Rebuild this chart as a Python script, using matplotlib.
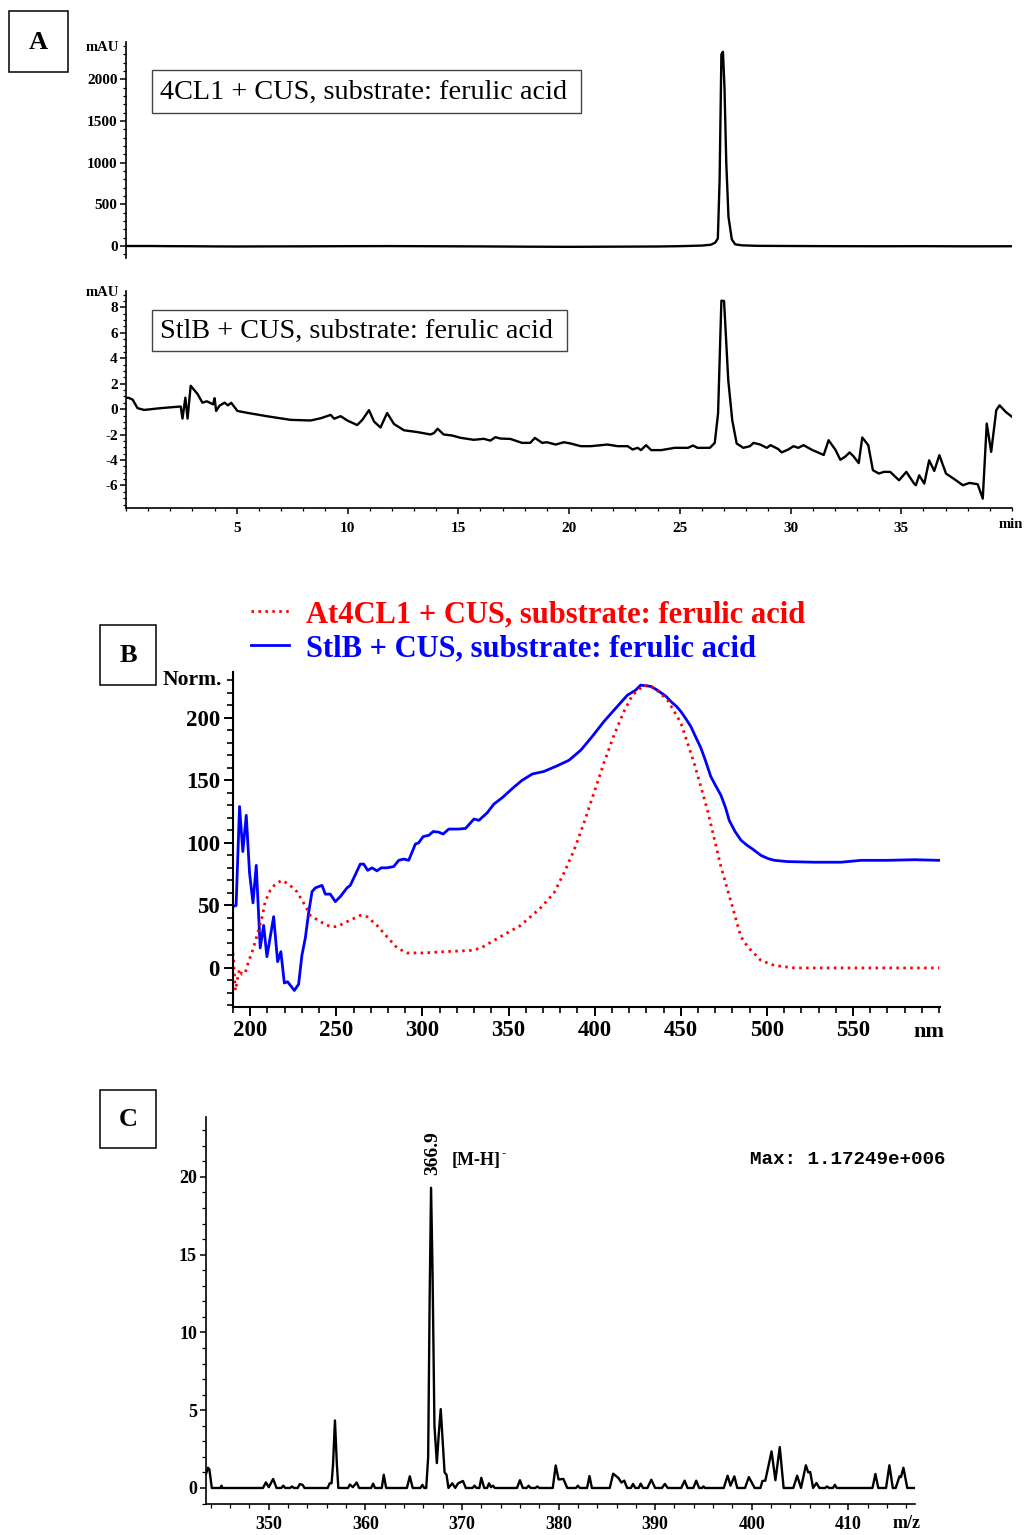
import numpy as np
import matplotlib
matplotlib.use("Agg")
import matplotlib.pyplot as plt
from matplotlib.patches import Rectangle
from matplotlib.ticker import MultipleLocator

plt.rcParams['font.family'] = ['Liberation Serif', 'DejaVu Serif']
plt.rcParams['font.weight'] = 'bold'
plt.rcParams['axes.unicode_minus'] = False

W, H = 1026, 1535

# ---------------- data ----------------
# A (top): 4CL1 + CUS, retention time (min) vs mAU
top_t = [0, 1, 2, 3, 4, 5, 6, 8, 10, 12, 14, 16, 18, 20, 22, 24, 25, 26, 26.4, 26.6,
         26.72, 26.8, 26.88, 26.95, 27.02, 27.1, 27.2, 27.35, 27.5, 27.8, 28.5, 30,
         32, 34, 36, 38, 40]
top_mau = [0, 0, -2, -3, -5, -6, -5, -4, -2, -1, -3, -5, -8, -10, -8, -6, -2, 5, 15, 40,
           90, 800, 2300, 2330, 1900, 1000, 350, 80, 20, 8, 2, 0, -2, -3, -2, -4, -3]

# A (bottom): StlB + CUS
bot_t = [0.0, 0.12, 0.3, 0.52, 0.82, 1.57, 2.47, 2.55, 2.68, 2.78, 2.92, 3.23, 3.45, 3.65,
         3.93, 4.0, 4.07, 4.22, 4.45, 4.6, 4.75, 5.03, 5.48, 6.38, 7.43, 8.34, 8.8, 9.24,
         9.4, 9.69, 9.99, 10.44, 10.67, 10.97, 11.2, 11.49, 11.79, 12.1, 12.55, 13.15,
         13.75, 13.9, 14.07, 14.34, 14.72, 15.1, 15.7, 16.15, 16.45, 16.68, 16.9, 17.35,
         17.88, 18.25, 18.46, 18.79, 19.0, 19.4, 19.77, 20.08, 20.53, 20.98, 21.74, 22.2,
         22.65, 22.87, 23.1, 23.25, 23.48, 23.71, 24.16, 24.77, 25.37, 25.6, 25.8, 26.36,
         26.58, 26.73, 26.88, 27.0, 27.19, 27.37, 27.57, 27.87, 28.17, 28.33, 28.63, 28.93,
         29.1, 29.45, 29.6, 29.9, 30.14, 30.35, 30.59, 30.97, 31.5, 31.72, 32.03, 32.25,
         32.48, 32.67, 32.85, 33.08, 33.24, 33.51, 33.72, 33.99, 34.22, 34.5, 34.9, 35.23,
         35.58, 35.66, 35.81, 36.04, 36.26, 36.49, 36.72, 37.02, 37.47, 37.78, 38.08,
         38.45, 38.68, 38.86, 39.06, 39.29, 39.44, 39.72, 40.0]
bot_mau = [0.9, 0.89, 0.75, 0.08, -0.06, 0.08, 0.21, -0.74, 0.9, -0.74, 1.84, 1.19, 0.51,
           0.62, 0.38, 0.86, -0.14, 0.27, 0.51, 0.3, 0.5, -0.14, -0.29, -0.56, -0.84, -0.89,
           -0.71, -0.45, -0.75, -0.55, -0.89, -1.25, -0.84, -0.08, -0.98, -1.44, -0.3,
           -1.17, -1.66, -1.8, -1.99, -1.88, -1.54, -1.99, -2.07, -2.25, -2.41, -2.33,
           -2.47, -2.2, -2.31, -2.34, -2.65, -2.65, -2.26, -2.65, -2.6, -2.78, -2.6, -2.7,
           -2.91, -2.91, -2.78, -2.91, -2.91, -3.17, -3.04, -3.22, -2.83, -3.22, -3.22,
           -3.04, -3.04, -2.86, -3.04, -3.04, -2.65, -0.34, 8.53, 8.5, 2.28, -0.87, -2.7,
           -3.04, -2.91, -2.65, -2.78, -3.04, -2.83, -3.14, -3.4, -3.17, -2.91, -3.04,
           -2.83, -3.2, -3.6, -2.44, -3.2, -3.98, -3.72, -3.4, -3.72, -4.24, -2.23, -2.83,
           -4.8, -5.06, -4.93, -4.93, -5.59, -4.93, -5.85, -5.98, -5.2, -5.85, -4.02, -4.86,
           -3.62, -5.06, -5.59, -5.98, -5.8, -5.9, -7.03, -1.13, -3.36, -0.08, 0.3, -0.22,
           -0.6]

# B: UV spectra (nm vs normalised absorbance)
blue_nm = [190, 191.8, 193.8, 195.7, 197.7, 199.6, 201.6, 203.5, 205.8, 207.8, 209.7,
           213.6, 215.9, 217.8, 219.8, 221.7, 225.6, 228.1, 230.0, 232.0, 233.9, 235.9,
           237.8, 241.7, 243.6, 246.5, 249.4, 252.3, 256.2, 258.1, 260.5, 263.9, 265.9,
           268.2, 270.7, 273.6, 276, 279.4, 283.3, 286.2, 289.1, 292, 295.9, 297.8, 300.4,
           303.7, 306.2, 309.5, 312, 315.3, 321.1, 325, 329.9, 332.8, 337.6, 341.5, 346.3,
           353.1, 357.9, 363.8, 370.5, 378.3, 385.1, 391.9, 398.6, 405.4, 411.2, 415.1,
           419, 423.8, 426.7, 432.6, 436.4, 438.4, 441.5, 444.2, 447.5, 450, 453, 455.8,
           458.5, 461.6, 464.5, 467.4, 470.5, 473.3, 476, 478.1, 481.5, 485, 488.5, 491.7,
           496.5, 500.5, 504.3, 512, 527.5, 543, 554.7, 570, 585.6, 600]
blue_norm = [49, 50, 129, 93, 122, 76, 52, 82, 16, 34, 9, 41, 5, 13, -12, -11, -18, -13,
             10, 24, 44, 61, 64, 66, 59, 59, 53, 57, 64, 66, 73, 83, 83, 78, 80, 77.6, 80,
             80, 81, 86, 87, 86, 99, 100, 105, 106, 109, 108.5, 107, 111, 111, 111.5, 119,
             118, 124, 131, 136, 144.5, 150, 155, 157, 161.6, 166, 174, 185, 197, 206, 212,
             218, 222, 226, 225, 222, 220, 217, 213, 209, 205, 199, 193, 185, 176, 165, 153,
             145, 138, 128, 118, 109, 102, 98, 95, 90, 87.5, 86, 85, 84.5, 84.5, 86, 86,
             86.5, 86]
red_nm = [190, 191.4, 192.7, 193.8, 195.2, 197.1, 199, 200.9, 202.9, 204.8, 206.8, 208.7,
          211.6, 214.5, 218.4, 222.3, 227.1, 231, 234.9, 240.7, 246.5, 250.4, 256.2, 263.9,
          267.8, 273.6, 279.4, 285.3, 291.1, 300.8, 312.4, 327.9, 333.7, 345.3, 357, 368.6,
          376.4, 382.2, 388, 393.8, 399.6, 405.4, 411.2, 417, 421.9, 428.7, 434.5, 442.3,
          450, 457.7, 465.5, 473.3, 481, 484.9, 488.8, 496.5, 504.3, 516, 540, 570, 600]
red_norm = [12, -18, -8, -1, -5, -4, 5, 12, 21, 30, 40, 53, 62, 67, 70, 67, 61, 52, 42, 37,
            33, 33, 37, 42, 41, 34, 25, 16, 12, 12, 13, 14, 15.7, 25, 34, 48, 60, 76, 94,
            116, 140, 164, 186, 205, 218, 226, 224, 214, 196, 164, 126, 81, 44, 25, 17, 6,
            2, 0, 0, 0, 0]

# C: mass spectrum (m/z vs relative intensity)
ms_mz = [343.5, 343.7, 343.85, 344.1, 345.0, 345.1, 345.2, 349.4, 349.7, 350.0, 350.45,
         350.8, 351.3, 351.5, 351.7, 352.2, 352.4, 352.6, 353.0, 353.2, 353.5, 353.7, 356.1,
         356.3, 356.5, 356.65, 356.85, 357.05, 357.2, 358.2, 358.4, 358.7, 359.1, 359.35,
         360.6, 360.8, 361.0, 361.7, 361.9, 362.15, 364.3, 364.6, 364.9, 365.7, 365.9,
         366.1, 366.3, 366.5, 366.65, 366.8, 366.95, 367.15, 367.4, 367.6, 367.8, 368.0,
         368.2, 368.4, 368.6, 369.0, 369.3, 369.6, 370.1, 370.4, 371.1, 371.3, 371.5, 371.8,
         372.0, 372.3, 372.6, 372.8, 373.0, 373.2, 373.4, 375.7, 376.0, 376.3, 376.7, 376.9,
         377.1, 377.6, 377.8, 378.0, 379.4, 379.7, 380.0, 380.5, 380.9, 381.8, 382.0, 382.2,
         382.95, 383.2, 383.45, 385.3, 385.65, 386.2, 386.5, 386.8, 387.1, 387.5, 387.7,
         387.95, 388.3, 388.5, 388.75, 389.2, 389.6, 390.0, 390.7, 391.0, 391.3, 392.7,
         393.05, 393.35, 393.95, 394.25, 394.55, 394.85, 395.0, 395.15, 397.1, 397.5, 397.8,
         398.2, 398.5, 399.3, 399.7, 400.3, 400.9, 401.1, 401.4, 402.05, 402.45, 402.9,
         403.3, 404.3, 404.7, 405.1, 405.6, 405.85, 406.05, 406.35, 406.7, 407.0, 407.6,
         407.8, 408.0, 408.4, 408.6, 408.8, 412.5, 412.8, 413.1, 413.9, 414.25, 414.6,
         414.9, 415.3, 415.45, 415.7, 416.1, 416.9]
ms_int = [0.9, 1.3, 1.2, 0.0, 0.0, 0.15, 0.0, 0.0, 0.36, 0.05, 0.58,
          0.0, 0.0, 0.15, 0.0, 0.0, 0.1, 0.0, 0.0, 0.25, 0.2, 0.0, 0.0,
          0.3, 0.3, 1.5, 4.34, 1.5, 0.0, 0.0, 0.22, 0.05, 0.35, 0.0,
          0.0, 0.28, 0.0, 0.0, 0.85, 0.0, 0.0, 0.75, 0.0, 0.0, 0.2,
          0.0, 0.0, 2.0, 12.0, 19.3, 14.0, 4.0, 1.6, 3.5, 5.07, 3.0,
          1.0, 0.85, 0.0, 0.3, 0.0, 0.3, 0.45, 0.0, 0.0, 0.15, 0.0, 0.0,
          0.65, 0.0, 0.0, 0.3, 0.05, 0.15, 0.0, 0.0, 0.5, 0.0, 0.0, 0.15,
          0.0, 0.0, 0.1, 0.0, 0.0, 1.45, 0.55, 0.58, 0.0, 0.0, 0.15, 0.0,
          0.0, 0.77, 0.0, 0.0, 0.92, 0.64, 0.35, 0.47, 0.0, 0.0, 0.26,
          0.0, 0.0, 0.28, 0.0, 0.0, 0.53, 0.0, 0.0, 0.26, 0.0, 0.0,
          0.47, 0.0, 0.0, 0.47, 0.0, 0.0, 0.1, 0.0, 0.0, 0.79, 0.15,
          0.75, 0.0, 0.0, 0.7, 0.0, 0.0, 0.45, 0.47, 2.35, 0.5, 2.63,
          0.0, 0.0, 0.79, 0.0, 1.46, 1.0, 1.03, 0.0, 0.32, 0.0, 0.0,
          0.1, 0.0, 0.0, 0.2, 0.0, 0.0, 0.9, 0.0, 0.0, 1.46, 0.0,
          0.0, 0.75, 0.7, 1.3, 0.0, 0.0]

legend_labels = ["At4CL1 + CUS, substrate: ferulic acid",
                 "StlB + CUS, substrate: ferulic acid"]
box_labels = ["4CL1 + CUS, substrate: ferulic acid",
              "StlB + CUS, substrate: ferulic acid"]


# ---------------- helpers (pixel layout) ----------------
def fx(x):
    return x / W


def fy(y):
    return 1 - y / H


def axes_px(fig, left, top, right, bottom):
    return fig.add_axes([fx(left), fy(bottom), (right - left) / W, (bottom - top) / H])


def frame_px(fig, left, top, right, bottom, lw=1.1, ec='black'):
    fig.add_artist(Rectangle((fx(left), fy(bottom)), (right - left) / W, (bottom - top) / H,
                             transform=fig.transFigure, fill=False, ec=ec, lw=lw))


def panel_letter(fig, letter, left, top, right, bottom):
    frame_px(fig, left, top, right, bottom)
    fig.text(fx((left + right) / 2), fy((top + bottom) / 2 + 1), letter,
             ha='center', va='center', fontsize=19, fontweight='bold')


def clean_spines(ax, lw=1.3, show_bottom=True):
    ax.spines['top'].set_visible(False)
    ax.spines['right'].set_visible(False)
    ax.spines['left'].set_linewidth(lw)
    ax.spines['bottom'].set_linewidth(lw)
    if not show_bottom:
        ax.spines['bottom'].set_visible(False)


fig = plt.figure(figsize=(W / 100, H / 100), dpi=100)

# ================= panel A =================
panel_letter(fig, 'A', 9, 11, 68, 72)

ax1 = axes_px(fig, 126, 42, 1012, 258)
ax1.plot(top_t, top_mau, color='black', lw=1.7)
ax1.set_xlim(0, 40)
ax1.set_ylim(-144, 2448)
clean_spines(ax1, lw=1.2, show_bottom=False)
ax1.set_xticks([])
ax1.yaxis.set_major_locator(MultipleLocator(500))
ax1.yaxis.set_minor_locator(MultipleLocator(100))
ax1.tick_params(axis='y', which='major', length=4, width=1.1, labelsize=11, pad=2)
ax1.tick_params(axis='y', which='minor', length=2, width=0.9)
fig.text(fx(119), fy(47.5), 'mAU', ha='right', va='center', fontsize=10.5)
frame_px(fig, 152, 70, 581, 113, lw=1.0, ec='#444444')
fig.text(fx(160), fy(92), box_labels[0], ha='left', va='center', fontsize=20.3,
         fontweight='normal')

ax2 = axes_px(fig, 126, 291, 1012, 508)
ax2.plot(bot_t, bot_mau, color='black', lw=1.7)
ax2.set_xlim(0, 40)
ax2.set_ylim(-7.77, 9.29)
clean_spines(ax2, lw=1.2)
ax2.set_xticks([5, 10, 15, 20, 25, 30, 35])
ax2.xaxis.set_minor_locator(MultipleLocator(1))
ax2.set_yticks([-6, -4, -2, 0, 2, 4, 6, 8])
ax2.yaxis.set_minor_locator(MultipleLocator(0.5))
ax2.tick_params(axis='both', which='major', length=4, width=1.1, labelsize=11, pad=2)
ax2.tick_params(axis='both', which='minor', length=2, width=0.9)
ax2.tick_params(axis='x', which='major', pad=6)
fig.text(fx(119), fy(293), 'mAU', ha='right', va='center', fontsize=10.5)
fig.text(fx(1011), fy(525), 'min', ha='center', va='center', fontsize=10.5)
frame_px(fig, 152, 310, 567, 351, lw=1.0, ec='#444444')
fig.text(fx(160), fy(331), box_labels[1], ha='left', va='center', fontsize=20.3,
         fontweight='normal')

# ================= panel B =================
panel_letter(fig, 'B', 100, 625, 156, 685)

ax3 = axes_px(fig, 233, 672, 940, 1007)
blue_line, = ax3.plot(blue_nm, blue_norm, color='#0000ff', lw=2.0)
red_line, = ax3.plot(red_nm, red_norm, color='#ff0000', lw=2.0, linestyle=(0, (0.9, 1.6)))
ax3.set_xlim(190, 600.5)
ax3.set_ylim(-31.2, 236.5)
clean_spines(ax3, lw=1.5)
ax3.set_xticks([200, 250, 300, 350, 400, 450, 500, 550])
ax3.xaxis.set_minor_locator(MultipleLocator(10))
ax3.set_yticks([0, 50, 100, 150, 200])
ax3.yaxis.set_minor_locator(MultipleLocator(10))
ax3.tick_params(axis='both', which='major', length=6.5, width=1.4, labelsize=16.5, pad=3)
ax3.tick_params(axis='both', which='minor', length=4, width=1.2)
fig.text(fx(222), fy(680), 'Norm.', ha='right', va='center', fontsize=15.5)
fig.text(fx(913), fy(1032), 'nm', ha='left', va='center', fontsize=16)

leg = ax3.legend([red_line, blue_line], legend_labels, loc='upper left',
                 bbox_to_anchor=(fx(251), fy(600)), bbox_transform=fig.transFigure,
                 frameon=False, borderpad=0, borderaxespad=0, handlelength=1.25,
                 handletextpad=0.55, labelspacing=0.17,
                 prop={'size': 22, 'weight': 'bold'})
for txt, col in zip(leg.get_texts(), ['#ff0000', '#0000ff']):
    txt.set_color(col)

# ================= panel C =================
panel_letter(fig, 'C', 100, 1090, 156, 1148)

ax4 = axes_px(fig, 206, 1117, 915, 1504)
ax4.plot(ms_mz, ms_int, color='black', lw=1.7, solid_joinstyle='round')
ax4.set_xlim(343.5, 416.9)
ax4.set_ylim(-1.03, 23.85)
clean_spines(ax4, lw=1.2)
ax4.set_xticks([350, 360, 370, 380, 390, 400, 410])
ax4.xaxis.set_minor_locator(MultipleLocator(2))
ax4.set_yticks([0, 5, 10, 15, 20])
ax4.yaxis.set_minor_locator(MultipleLocator(1))
ax4.tick_params(axis='both', which='major', length=4.5, width=1.1, labelsize=13, pad=2)
ax4.tick_params(axis='x', which='major', pad=4)
ax4.tick_params(axis='both', which='minor', length=3, width=0.9)
ax4.text(366.95, 20.1, '366.9', rotation=90, ha='center', va='bottom', fontsize=14)
ax4.text(368.95, 21.07, '[M-H]', ha='left', va='center', fontsize=13)
fig.text(fx(501), fy(1153), '-', ha='left', va='center', fontsize=9)
fig.text(fx(750), fy(1159.5), 'Max: 1.17249e+006', ha='left', va='center',
         fontsize=13.9, family=['Liberation Mono', 'DejaVu Sans Mono'], fontweight='bold')
fig.text(fx(893), fy(1523), 'm/z', ha='left', va='center', fontsize=13)

fig.savefig('out.png', dpi=100)
